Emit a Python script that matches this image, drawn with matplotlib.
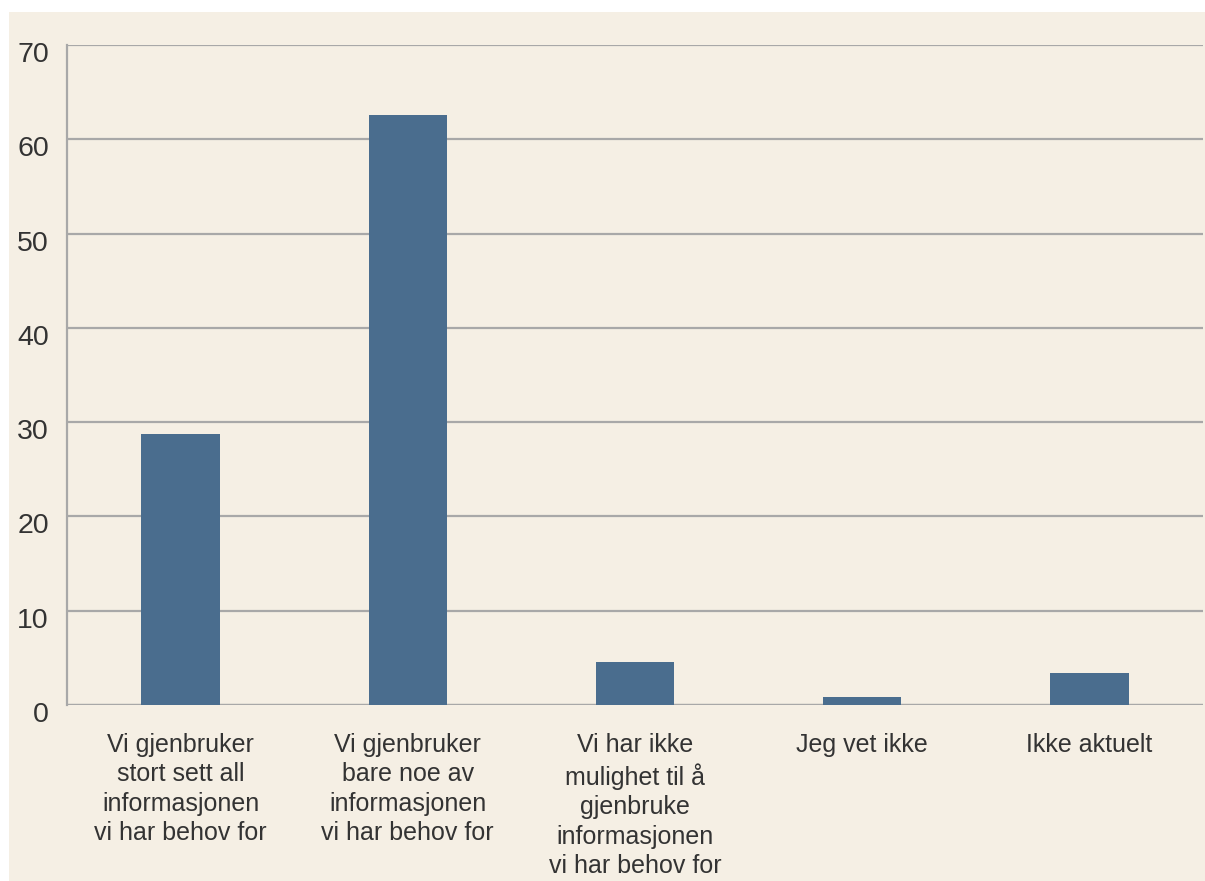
import matplotlib.pyplot as plt
import matplotlib.transforms as mtransforms
from matplotlib.patches import Rectangle

categories = [
    "Vi gjenbruker\nstort sett all\ninformasjonen\nvi har behov for",
    "Vi gjenbruker\nbare noe av\ninformasjonen\nvi har behov for",
    "Vi har ikke\nmulighet til å\ngjenbruke\ninformasjonen\nvi har behov for",
    "Jeg vet ikke",
    "Ikke aktuelt",
]
values = [28.7, 62.6, 4.6, 0.9, 3.4]
yticks = [0, 10, 20, 30, 40, 50, 60, 70]

plt.rcParams['font.family'] = ['Liberation Sans', 'DejaVu Sans']

bg = "#F5EFE4"
fig = plt.figure(figsize=(12.05, 8.81), dpi=100)
fig.patch.set_facecolor("white")
fig.patches.append(Rectangle((9 / 1205, 0), 1, 1 - 12 / 881, transform=fig.transFigure,
                             facecolor=bg, edgecolor="none", zorder=-10))

ax = fig.add_axes([67 / 1205, 176 / 881, 1136 / 1205, 660 / 881])
ax.set_facecolor(bg)

x = range(len(categories))
ax.bar(x, values, width=0.345, color="#4A6D8E", zorder=3)

ax.set_xlim(-0.5, 4.5)
ax.set_ylim(0, 70)
ax.set_yticks(yticks)
ax.yaxis.grid(True, color="#A8A8A8", linewidth=1.6, zorder=1)
ax.set_axisbelow(True)

for s in ["top", "right", "bottom"]:
    ax.spines[s].set_visible(False)
ax.spines["left"].set_color("#A8A8A8")
ax.spines["left"].set_linewidth(1.6)
ax.axhline(0, color="#A8A8A8", linewidth=1.6, zorder=2)

ax.set_xticks(list(x))
ax.set_xticklabels(categories, fontsize=18, color="#333333", linespacing=1.29)
ax.tick_params(axis="x", length=0, pad=20)
ax.tick_params(axis="y", length=0, pad=13, labelsize=20.5, labelcolor="#333333")

offset = mtransforms.ScaledTranslation(0, -7 / 100, fig.dpi_scale_trans)
for lbl in ax.get_yticklabels():
    lbl.set_transform(lbl.get_transform() + offset)

plt.savefig("out.png", dpi=100, facecolor=fig.get_facecolor())
